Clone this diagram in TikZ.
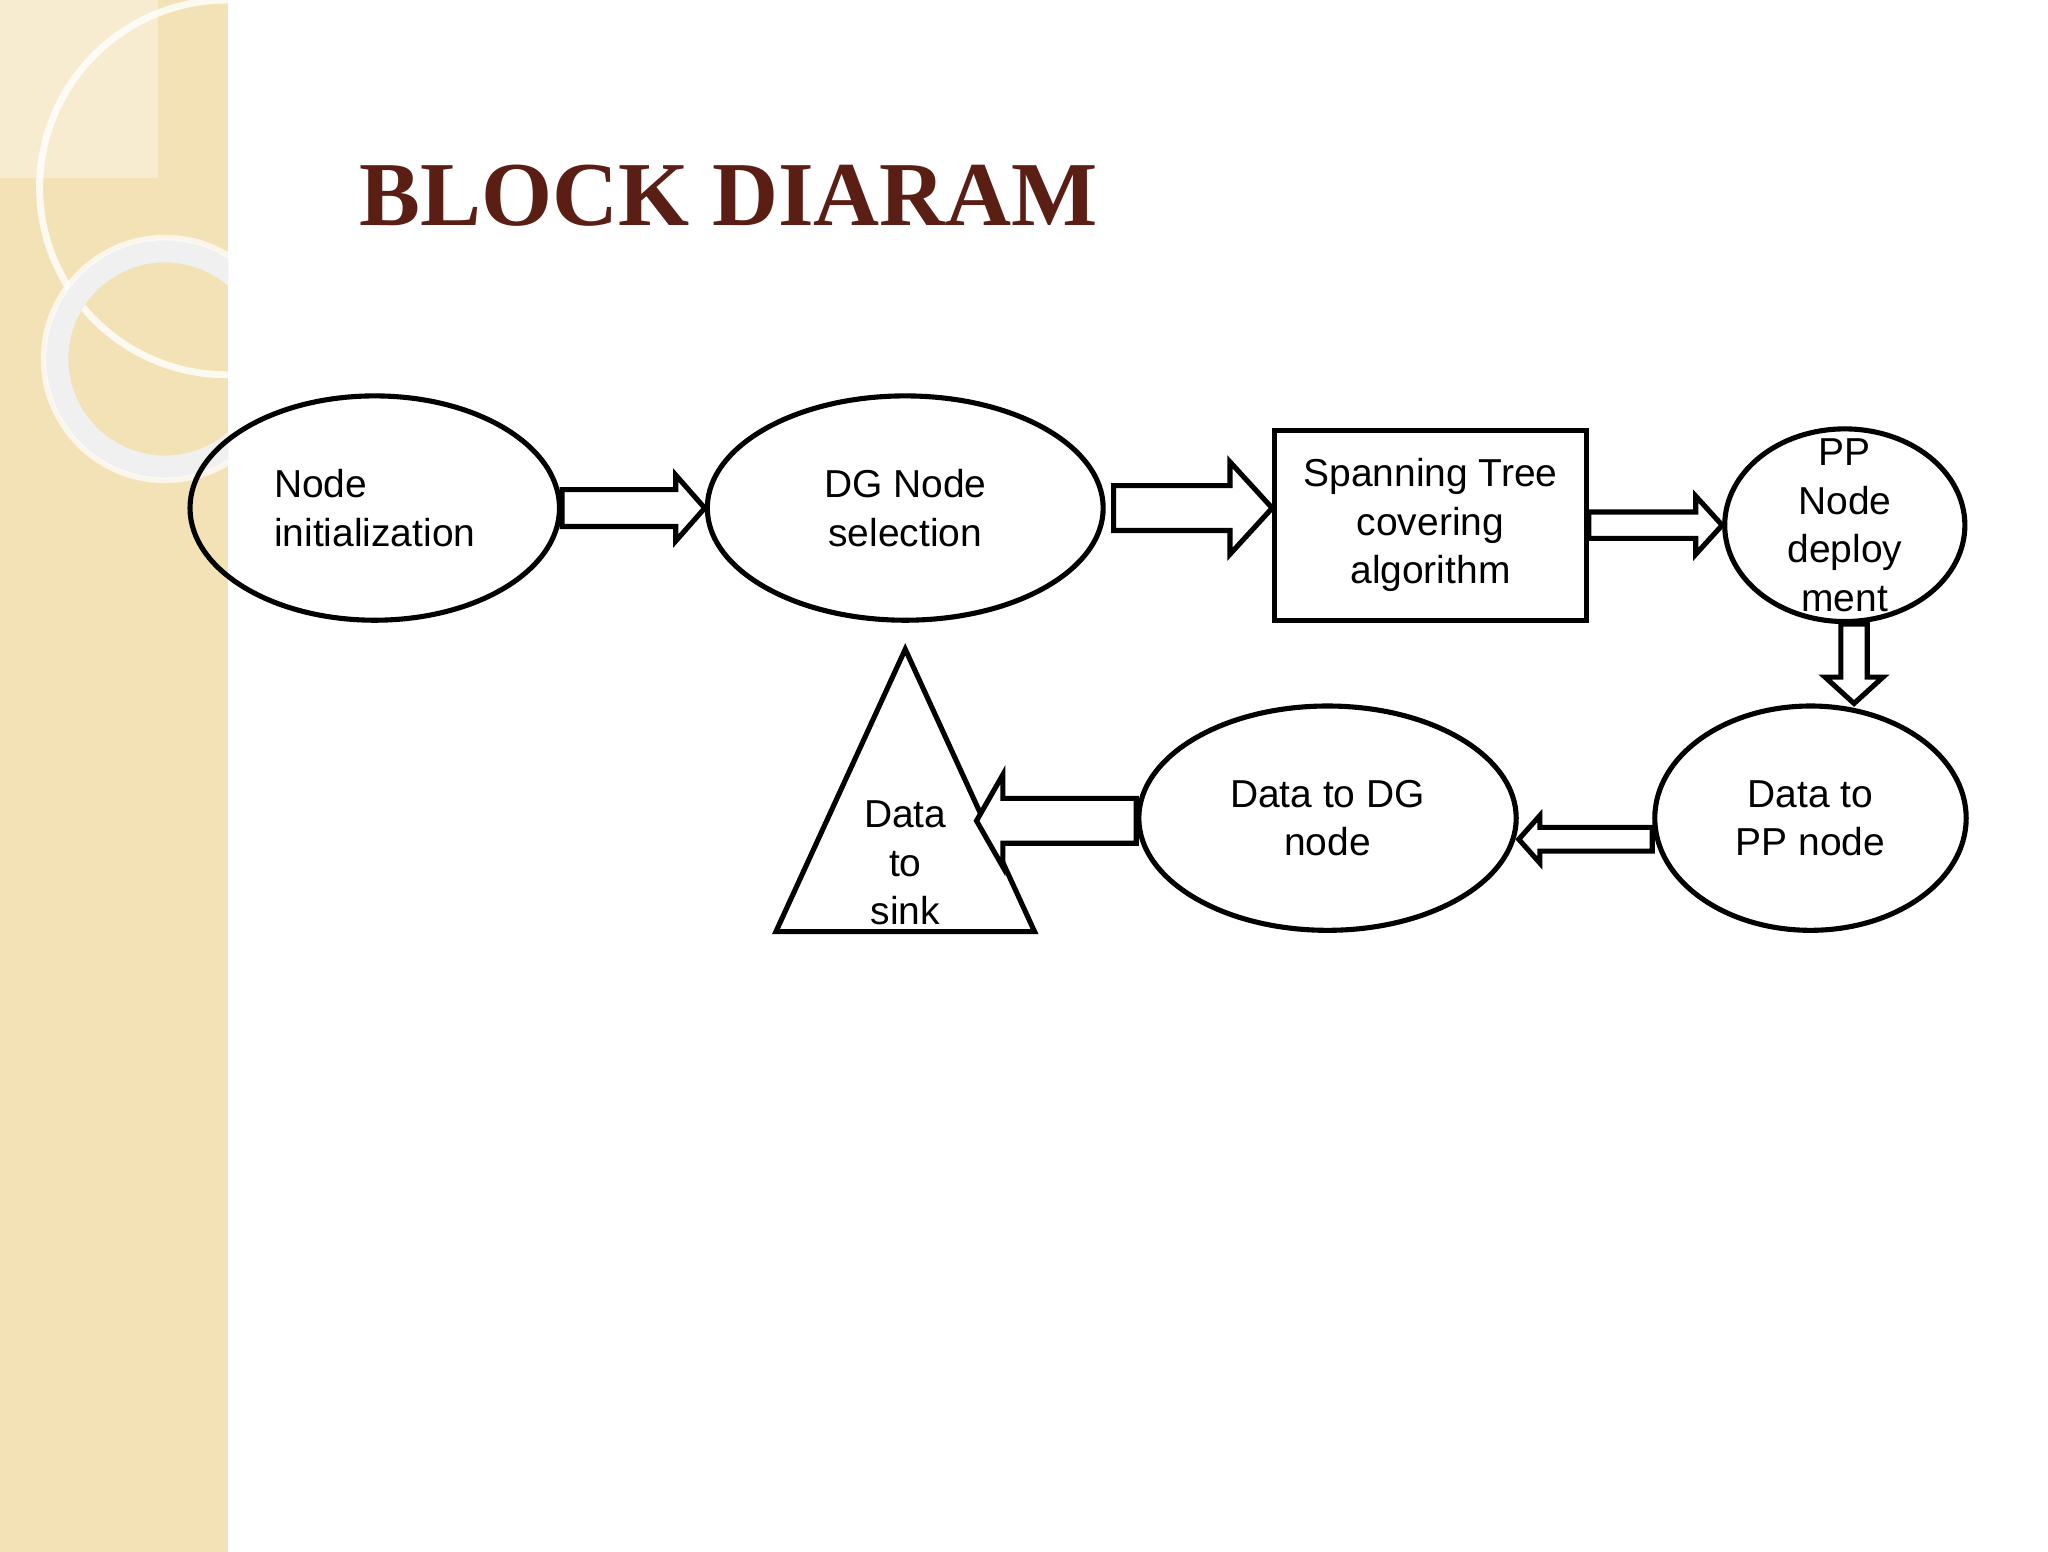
\documentclass[tikz,border=0pt]{standalone}
\usepackage{fontspec}
\setmainfont{Liberation Sans}
\newfontfamily\titlefont{Liberation Serif}
\usetikzlibrary{shapes.geometric,calc}
\definecolor{band}{HTML}{F3E2B6}
\definecolor{titlebrown}{HTML}{5A1E14}
% horizontal and vertical block arrows: from, to, half shaft, half head, head length
\newcommand\hblock[5]{\draw[blk] let \p1=(#1), \p2=(#2), \n1={sign(\x2-\x1)} in
  (\x1,{\y1+#3}) -- ({\x2-\n1*#5},{\y1+#3}) -- ({\x2-\n1*#5},{\y1+#4}) -- (\x2,\y1)
  -- ({\x2-\n1*#5},{\y1-#4}) -- ({\x2-\n1*#5},{\y1-#3}) -- (\x1,{\y1-#3}) -- cycle;}
\newcommand\vblock[5]{\draw[blk] let \p1=(#1), \p2=(#2), \n1={sign(\y2-\y1)} in
  ({\x1+#3},\y1) -- ({\x1+#3},{\y2-\n1*#5}) -- ({\x1+#4},{\y2-\n1*#5}) -- (\x1,\y2)
  -- ({\x1-#4},{\y2-\n1*#5}) -- ({\x1-#3},{\y2-\n1*#5}) -- ({\x1-#3},\y1) -- cycle;}
\begin{document}
\begin{tikzpicture}[x=0.1mm, y=-0.1mm,
    every node/.style={font=\fontsize{8.4}{10.5}\selectfont},
    blk/.style={draw, line width=1.1pt, fill=white},
    bubble/.style={ellipse, draw, line width=1.1pt, inner sep=0pt, align=center},
    box/.style={rectangle, draw, line width=1.1pt, inner sep=0pt, align=center}
    ]
% -------------------------------------------------
% Page and left band
\useasboundingbox (0,0) rectangle (1552,1176);
\fill[white] (0,0) rectangle (1552,1176);
\fill[band] (0,0) rectangle (173,1176);
\fill[white, opacity=0.35] (0,0) rectangle (120,135);
\begin{scope}
  \clip (0,0) rectangle (173,1176);
  \draw[white, opacity=0.8, line width=1.5pt] (172,142) circle (142);
  \draw[gray!12, line width=5pt] (125,272) circle (82);
  \draw[white, opacity=0.7, line width=1.2pt] (125,272) circle (92);
\end{scope}
% -------------------------------------------------
% Title
\node[anchor=west, text=titlebrown, font=\titlefont\bfseries\fontsize{19.7}{22}\selectfont]
  (title) at (260,148) {BLOCK DIARAM};
% -------------------------------------------------
% Top row
\node[bubble, minimum width=28mm, minimum height=17mm, align=left] (init) at (284,385)
  {Node\\initialization};
\node[bubble, minimum width=30mm, minimum height=17mm] (dgsel) at (686,385)
  {DG Node\\selection};
\node[box, minimum width=23.6mm, minimum height=14.4mm] (span) at (1084,398)
  {Spanning Tree\\covering\\algorithm};
\node[bubble, minimum width=18.2mm, minimum height=14.6mm] (ppdep) at (1398,398) {};
\node[align=center] (pptext) at (ppdep) {PP\\Node\\deploy\\ment};
% Bottom row
\node[bubble, minimum width=23.6mm, minimum height=17mm] (topp) at (1372,620)
  {Data to\\PP node};
\node[bubble, minimum width=28.6mm, minimum height=17mm] (todg) at (1006,620)
  {Data to DG\\node};
% sink triangle
\coordinate (apex) at (686,492);
\coordinate (bl) at (588,706);
\coordinate (br) at (784,706);
\coordinate (trir) at (740,622);
\draw[line width=1.1pt] (apex) -- (br) -- (bl) -- cycle;
\node[align=center] (sink) at (686,654) {Data\\to\\sink};
% -------------------------------------------------
% Block arrows
\hblock{init.east}{dgsel.west}{1.4mm}{2.5mm}{2.2mm}
\hblock{[xshift=0.6mm]dgsel.east}{span.west}{1.7mm}{3.5mm}{3.2mm}
\hblock{span.east}{ppdep.west}{1mm}{2.2mm}{2mm}
\vblock{[xshift=0.7mm]ppdep.south}{[xshift=0.7mm]ppdep.south|-topp.north}{1mm}{2.2mm}{2mm}
\hblock{[yshift=-1.6mm]topp.west}{[yshift=-1.6mm]todg.east}{0.9mm}{1.8mm}{1.6mm}
\hblock{[yshift=-0.2mm]todg.west}{trir}{1.7mm}{3.5mm}{2mm}
\end{tikzpicture}
\end{document}
